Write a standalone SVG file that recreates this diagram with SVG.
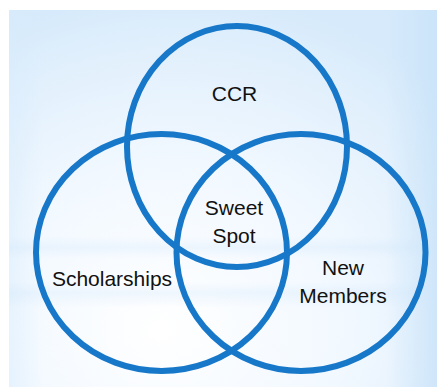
<svg xmlns="http://www.w3.org/2000/svg" width="437" height="387" viewBox="0 0 437 387">
  <defs>
    <radialGradient id="bg" cx="0.4" cy="0.8" r="0.85" fx="0.35" fy="0.85">
      <stop offset="0" stop-color="#ffffff"/>
      <stop offset="0.5" stop-color="#f1f8ff"/>
      <stop offset="0.85" stop-color="#e0effc"/>
      <stop offset="1" stop-color="#d6eafb"/>
    </radialGradient>
    <linearGradient id="edge" x1="0" y1="0" x2="1" y2="0">
      <stop offset="0" stop-color="#d9ecfc" stop-opacity="0.5"/>
      <stop offset="0.08" stop-color="#d9ecfc" stop-opacity="0"/>
      <stop offset="0.88" stop-color="#c9e3f9" stop-opacity="0"/>
      <stop offset="1" stop-color="#c9e3f9" stop-opacity="0.8"/>
    </linearGradient>
    <linearGradient id="bands" x1="0" y1="0" x2="0" y2="1">
      <stop offset="0" stop-color="#cfe6fa" stop-opacity="0"/>
      <stop offset="0.6" stop-color="#cfe6fa" stop-opacity="0"/>
      <stop offset="0.63" stop-color="#cfe6fa" stop-opacity="0.3"/>
      <stop offset="0.66" stop-color="#cfe6fa" stop-opacity="0"/>
      <stop offset="0.72" stop-color="#cfe6fa" stop-opacity="0"/>
      <stop offset="0.75" stop-color="#cfe6fa" stop-opacity="0.3"/>
      <stop offset="0.79" stop-color="#cfe6fa" stop-opacity="0"/>
      <stop offset="1" stop-color="#cfe6fa" stop-opacity="0"/>
    </linearGradient>
  </defs>
  <style>
    .ring { fill: none; stroke: #1778c9; stroke-width: 6; }
    .lbl { font-family: "Liberation Sans", Arial, sans-serif; font-size: 21px; fill: #111; text-anchor: middle; }
  </style>
  <rect x="0" y="0" width="437" height="387" fill="#ffffff"/>
  <rect x="9" y="10" width="428" height="377" fill="url(#bg)"/>
  <rect x="9" y="10" width="428" height="377" fill="url(#edge)"/>
  <rect x="9" y="10" width="428" height="377" fill="url(#bands)"/>
  <g id="ccr">
    <ellipse class="ring" cx="237" cy="146.5" rx="110" ry="120.5"/>
    <text class="lbl" x="234.5" y="101">CCR</text>
  </g>
  <g id="scholarships">
    <ellipse class="ring" cx="161.5" cy="252.5" rx="125.5" ry="118.5"/>
    <text class="lbl" x="112" y="286">Scholarships</text>
  </g>
  <g id="new-members">
    <ellipse class="ring" cx="301" cy="252.5" rx="124.5" ry="118.5"/>
    <text class="lbl" x="343" y="274.5">New</text>
    <text class="lbl" x="343" y="302.5">Members</text>
  </g>
  <g id="sweet-spot">
    <text class="lbl" x="234" y="214.5">Sweet</text>
    <text class="lbl" x="234" y="243">Spot</text>
  </g>
  <g id="connectors"/>
</svg>
